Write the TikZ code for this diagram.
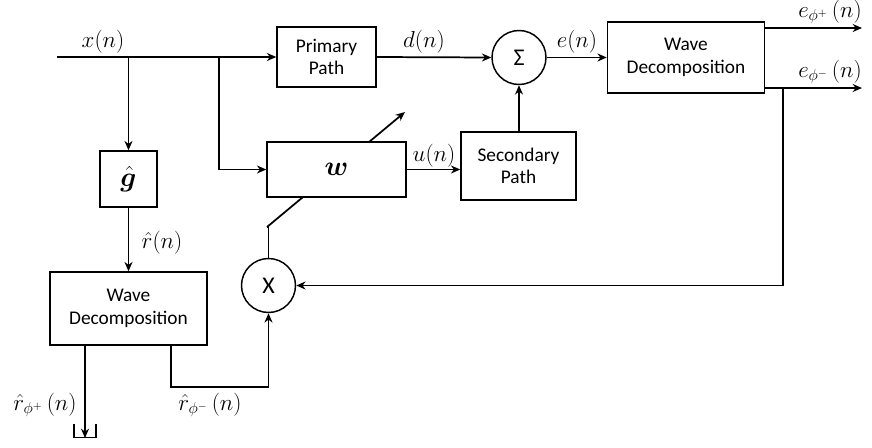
\documentclass[tikz,border=0pt]{standalone}
\usepackage{amsmath,bm}
\usepackage{fontspec}
\setmainfont{Carlito}
\usetikzlibrary{arrows.meta}
\pgfdeclarelayer{back}
\pgfsetlayers{back,main}
\begin{document}
\begin{tikzpicture}[x=0.75pt,y=-0.75pt,
  blk/.style={draw,fill=white,line width=1.1pt,minimum width=#1,align=center,font=\fontsize{14.5}{17}\selectfont,inner sep=0pt},
  circ/.style={draw,circle,line width=1.1pt,minimum size=40.5pt,inner sep=0pt,font=\fontsize{18}{20}\selectfont},
  wire/.style={line width=1.3pt},
  arr/.style={wire,-{Stealth[length=7pt,width=6pt]}},
  lbl/.style={font=\fontsize{17}{19}\selectfont,inner sep=1pt}]
\useasboundingbox (0,0) rectangle (872,447);
% blocks
\node[blk=74.25pt,minimum height=45pt] (pp) at (326.5,57) {Primary\\Path};
\node[circ] (sum) at (519,57.5) {Σ};
\node[blk=117.75pt,minimum height=53.25pt] (wdr) at (686,57.5) {Wave\\Decomposition};
\node[blk=104.25pt,minimum height=41.25pt,font=\fontsize{20}{22}\selectfont] (w) at (336.5,169.5) {$\bm{w}$};
\node[blk=86.25pt,minimum height=51pt] (sp) at (518.5,166) {Secondary\\Path};
\node[blk=42.75pt,minimum height=42pt,font=\fontsize{21}{23}\selectfont] (g) at (128.5,179) {$\hat{\bm{g}}$};
\node[blk=117.75pt,minimum height=54.75pt] (wdl) at (128.5,308.5) {Wave\\Decomposition};
\node[circ] (mul) at (268.5,285.5) {X};
% coordinates
\coordinate (xin) at (57,57);
\coordinate (b1) at (128.5,57);
\coordinate (b2) at (219,57);
\coordinate (b2d) at (219,169.5);
\coordinate (ep) at (862,28);
\coordinate (em) at (862,88);
\coordinate (fb) at (783,88);
\coordinate (fbd) at (783,285.5);
\coordinate (adj0) at (267,227);
\coordinate (adj1) at (405,112);
\coordinate (rp0) at (85,345.875);
\coordinate (rp1) at (85,438);
\coordinate (rm0) at (171,345.875);
\coordinate (rm1) at (171,387);
\coordinate (rm2) at (268.5,387);
% connectors
\draw[arr] (xin) -- (pp.west);
\draw[arr] (b1) -- (g.north);
\draw[arr] (b2) -- (b2d) -- (w.west);
\draw[arr] (pp.east) -- (sum.west);
\draw[arr] (sum.east) -- (wdr.west);
\draw[arr] (w.east) -- (w.east -| sp.west);
\draw[arr] (sp.north -| sum.south) -- (sum.south);
\draw[arr] (wdr.east |- ep) -- (ep);
\draw[arr] (wdr.east |- em) -- (em);
\draw[arr] (fb) -- (fbd) -- (mul.east);
\draw[arr] (g.south) -- (wdl.north);
\draw[arr] (rm0) -- (rm1) -- (rm2) -- (mul.south);
\draw[wire] (mul.north) -- (mul.north |- adj0) -- (adj0);
\begin{pgfonlayer}{back}
\draw[arr] (adj0) -- (adj1);
\end{pgfonlayer}
\draw[arr] (rp0) -- (rp1);
\draw[wire] (74,424) -- (74,437.5) -- (96,437.5) -- (96,424);
% labels
\node[lbl] at (103,42) {$x(n)$};
\node[lbl] at (424,42) {$d(n)$};
\node[lbl] at (577,42) {$e(n)$};
\node[lbl] at (434,156) {$u(n)$};
\node[lbl] at (162,243) {$\hat{r}(n)$};
\node[lbl] at (830,12) {$e_{\phi^{+}}\,(n)$};
\node[lbl] at (830,72) {$e_{\phi^{-}}\,(n)$};
\node[lbl] at (45,405) {$\hat{r}_{\phi^{+}}\,(n)$};
\node[lbl] at (210,405) {$\hat{r}_{\phi^{-}}\,(n)$};
\end{tikzpicture}
\end{document}
